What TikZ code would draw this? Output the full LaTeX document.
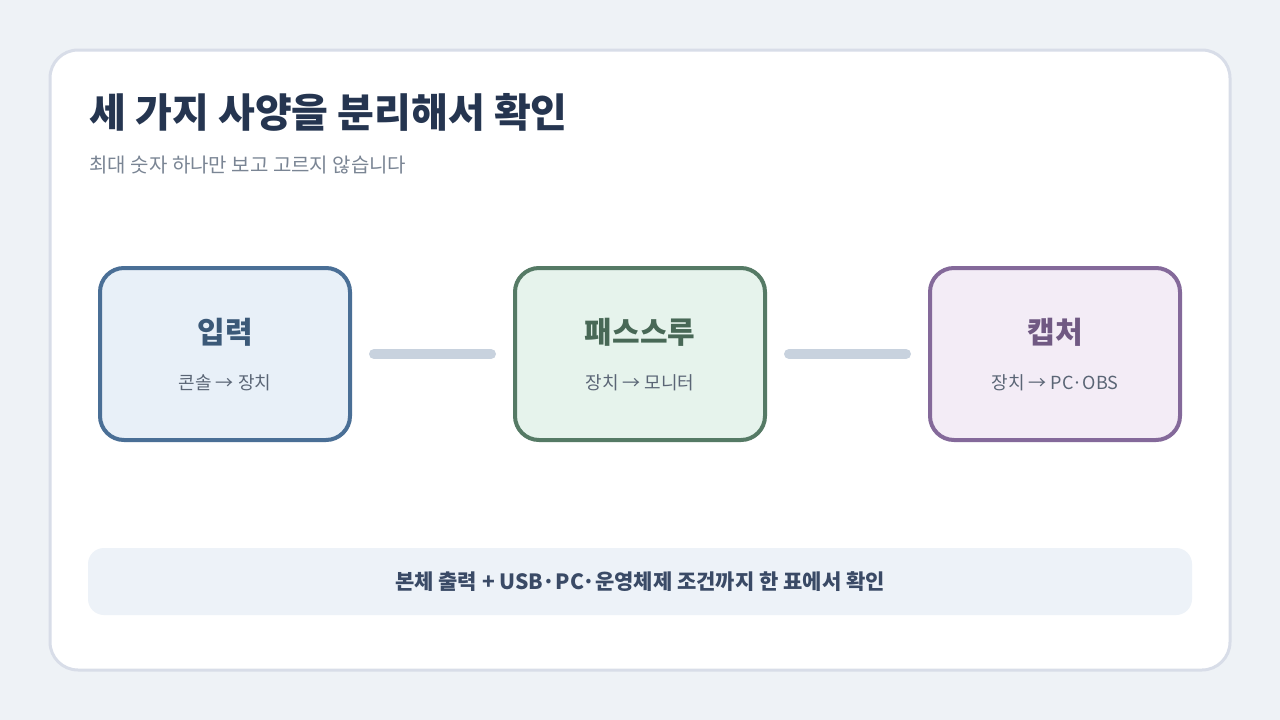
\documentclass[tikz,border=0pt]{standalone}
\usepackage{fontspec}
\setmainfont{Noto Sans CJK KR}
\usetikzlibrary{positioning}
\definecolor{bgc}{HTML}{EEF2F6}
\definecolor{cardline}{HTML}{D8DDE8}
\definecolor{titlec}{HTML}{253550}
\definecolor{subc}{HTML}{7A8594}
\definecolor{smallc}{HTML}{5A6575}
\definecolor{linkc}{HTML}{C8D2DE}
\definecolor{barc}{HTML}{EDF2F8}
\definecolor{bartext}{HTML}{3A4A66}
\definecolor{inpfill}{HTML}{E8F0F8}\definecolor{inpline}{HTML}{4A6F96}
\definecolor{pasfill}{HTML}{E6F3EC}\definecolor{pasline}{HTML}{557A65}
\definecolor{capfill}{HTML}{F3ECF6}\definecolor{capline}{HTML}{84699A}
\begin{document}
\begin{tikzpicture}[x=1pt,y=-1pt,
        stage/.style={draw, line width=4pt, rounded corners=24pt, minimum width=250pt, minimum height=172pt},
        stagename/.style={font=\bfseries\fontsize{30}{36}\selectfont},
        stagenote/.style={text=smallc, font=\fontsize{18}{22}\selectfont},
        link/.style={draw=linkc, line width=10pt, line cap=round, shorten <=22pt, shorten >=22pt},
    ]
    \fill[bgc] (0,0) rectangle (1280,720);
    \draw[cardline, fill=white, line width=3pt, rounded corners=28pt] (50,50) rectangle (1230,670);
    \node[anchor=west, text=titlec, font=\bfseries\fontsize{40}{48}\selectfont] (title) at (86,112) {세 가지 사양을 분리해서 확인};
    \node[anchor=west, text=subc, font=\fontsize{20}{24}\selectfont] (sub) at (86,165) {최대 숫자 하나만 보고 고르지 않습니다};
    % stages
    \node[stage, draw=inpline, fill=inpfill] (inp) at (225,354) {};
    \node[stage, draw=pasline, fill=pasfill] (pas) at (640,354) {};
    \node[stage, draw=capline, fill=capfill] (cap) at (1055,354) {};
    \node[stagename, text=inpline!80!black] at (225,332) {입력};
    \node[stagename, text=pasline!85!black] at (640,332) {패스스루};
    \node[stagename, text=capline!85!black] at (1055,332) {캡처};
    \node[stagenote] at (225,383) {콘솔 → 장치};
    \node[stagenote] at (640,383) {장치 → 모니터};
    \node[stagenote] at (1055,383) {장치 → PC·OBS};
    \draw[link] (inp.east) -- (pas.west);
    \draw[link] (pas.east) -- (cap.west);
    % bottom note
    \node[fill=barc, rounded corners=16pt, minimum width=1104pt, minimum height=67pt, text=bartext, font=\bfseries\fontsize{21}{25}\selectfont] (note) at (640,581.5) {본체 출력 + USB·PC·운영체제 조건까지 한 표에서 확인};
\end{tikzpicture}
\end{document}
